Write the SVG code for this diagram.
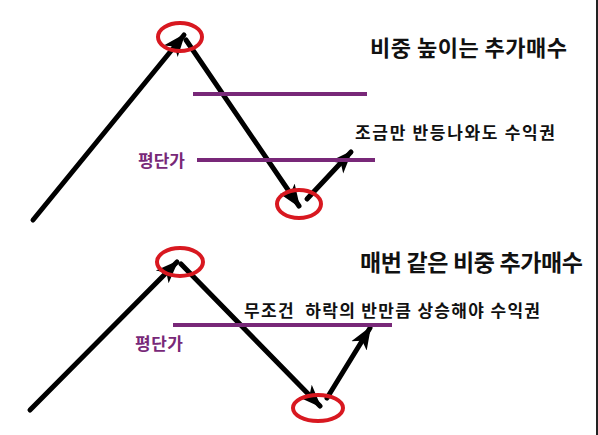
<svg xmlns="http://www.w3.org/2000/svg" width="598" height="435" viewBox="0 0 598 435">
<style>
.ln{stroke:#000;stroke-width:5;fill:none;stroke-linecap:round}
.pu{stroke:#782878;stroke-width:4}
.ov{fill:none;stroke:#d81820;stroke-width:4}
.t{font-family:"Noto Sans CJK KR","Noto Sans",sans-serif;font-weight:bold;fill:#111}
.p{font-family:"Noto Sans CJK KR","Noto Sans",sans-serif;font-weight:bold;fill:#782878;font-size:17px}
</style>
<defs>
<marker id="ah" markerUnits="userSpaceOnUse" markerWidth="26" markerHeight="26" viewBox="0 0 26 26" refX="21" refY="13" orient="auto">
<path d="M0,4 L23,13 L0,22 L6,13 Z" fill="#000"/>
</marker>
</defs>
<rect width="598" height="435" fill="#fff"/>
<line x1="597" y1="0" x2="597" y2="435" stroke="#222" stroke-width="2"/>
<g id="connectors">
<line class="ln" x1="33" y1="220" x2="184" y2="35" marker-end="url(#ah)"/>
<line class="ln" x1="186" y1="40" x2="299" y2="206" marker-end="url(#ah)"/>
<line class="ln" x1="307" y1="199" x2="351" y2="152" marker-end="url(#ah)"/>
<line class="ln" x1="30" y1="410" x2="177" y2="262" marker-end="url(#ah)"/>
<line class="ln" x1="181" y1="264" x2="320" y2="406" marker-end="url(#ah)"/>
<line class="ln" x1="327" y1="398" x2="370" y2="328" marker-end="url(#ah)"/>
</g>
<g id="top-lines">
<line class="pu" x1="193" y1="94" x2="367" y2="94"/>
<line class="pu" x1="197" y1="160" x2="375" y2="160"/>
</g>
<g id="top-circles">
<ellipse class="ov" cx="180" cy="37" rx="22" ry="14"/>
<ellipse class="ov" cx="299" cy="204" rx="22" ry="14"/>
</g>
<g id="top-labels">
<text class="t" x="370" y="56" font-size="22" textLength="197" lengthAdjust="spacing">비중 높이는 추가매수</text>
<text class="t" x="355" y="139" font-size="17" textLength="200" lengthAdjust="spacing">조금만 반등나와도 수익권</text>
<text class="p" x="138" y="167" textLength="47" lengthAdjust="spacing">평단가</text>
</g>
<g id="bottom-line">
<line class="pu" x1="173" y1="325" x2="392" y2="325"/>
</g>
<g id="bottom-circles">
<ellipse class="ov" cx="180" cy="262" rx="23" ry="14"/>
<ellipse class="ov" cx="318" cy="408" rx="25" ry="13"/>
</g>
<g id="bottom-labels">
<text class="t" x="360" y="271" font-size="23" textLength="223" lengthAdjust="spacing">매번 같은 비중 추가매수</text>
<text class="t" x="244" y="317" font-size="17" textLength="296" lengthAdjust="spacing" xml:space="preserve">무조건  하락의 반만큼 상승해야 수익권</text>
<text class="p" x="135" y="350" textLength="48" lengthAdjust="spacing">평단가</text>
</g>
</svg>
